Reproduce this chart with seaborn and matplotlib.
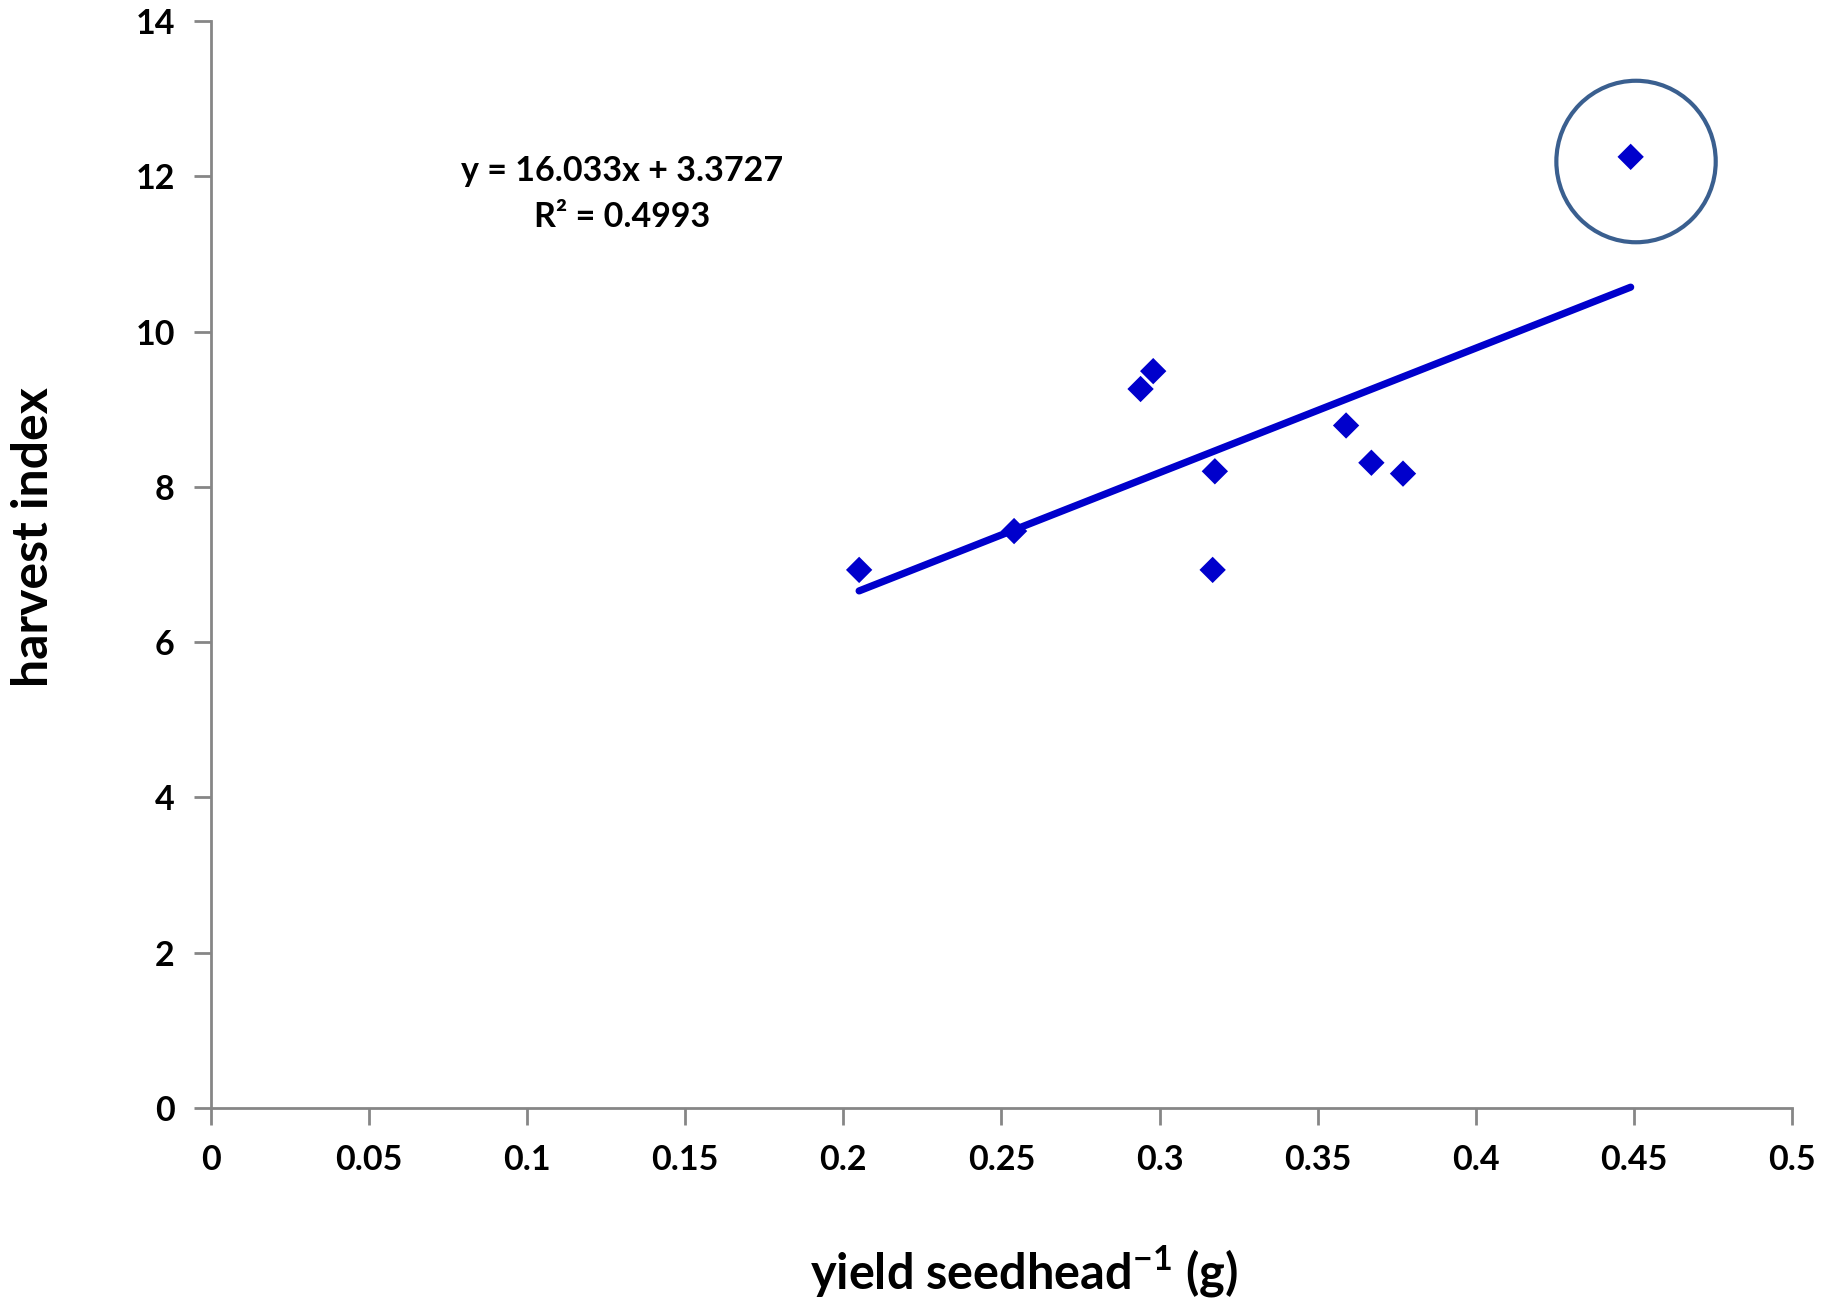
import numpy as np
import pandas as pd
import matplotlib
matplotlib.use('Agg')
import matplotlib.pyplot as plt
import seaborn as sns
from matplotlib.patches import Ellipse

# values
yield_seedhead = [0.205, 0.254, 0.294, 0.298, 0.3175, 0.3168, 0.359, 0.367, 0.377, 0.449]
harvest_index = [6.93, 7.43, 9.26, 9.49, 8.20, 6.93, 8.79, 8.31, 8.17, 12.25]

slope = 16.033
intercept = 3.3727
r_squared = 0.4993

x_ticks = [0, 0.05, 0.1, 0.15, 0.2, 0.25, 0.3, 0.35, 0.4, 0.45, 0.5]
y_ticks = [0, 2, 4, 6, 8, 10, 12, 14]

data = pd.DataFrame({'yield': yield_seedhead, 'hi': harvest_index})
trend = pd.DataFrame({'yield': [min(yield_seedhead), max(yield_seedhead)]})
trend['hi'] = slope * trend['yield'] + intercept

sns.set_style('white')
plt.rcParams['font.family'] = ['Lato', 'DejaVu Sans']
plt.rcParams['font.weight'] = 'bold'
plt.rcParams['text.color'] = 'black'
plt.rcParams['axes.labelcolor'] = 'black'
plt.rcParams['xtick.labelcolor'] = 'black'
plt.rcParams['ytick.labelcolor'] = 'black'
plt.rcParams['mathtext.fontset'] = 'custom'
plt.rcParams['mathtext.bf'] = 'Lato:bold'
plt.rcParams['mathtext.rm'] = 'Lato:bold'

fig = plt.figure(figsize=(18.39, 13.03), dpi=100)
ax = fig.add_axes([0.1147, 0.1497, 0.8597, 0.8342])

sns.lineplot(data=trend, x='yield', y='hi', ax=ax, color='#0000CC', linewidth=5.2,
             solid_capstyle='round')
sns.scatterplot(data=data, x='yield', y='hi', ax=ax, marker='D', s=180,
                color='#0000CC', edgecolor='none', zorder=3)

# highlight circle around the outlier
ax.add_patch(Ellipse((0.4507, 12.19), width=0.0504, height=2.08, fill=False,
                     edgecolor='#3A5F8F', linewidth=3, zorder=4))

ax.text(0.13, 12.07, f'y = {slope}x + {intercept}', ha='center', va='center',
        fontsize=24.5, fontweight='bold', color='black')
ax.text(0.13, 11.47, f'R² = {r_squared}', ha='center', va='center',
        fontsize=24.5, fontweight='bold', color='black')

ax.set_xlim(0, 0.5)
ax.set_ylim(0, 14)
ax.set_xticks(x_ticks)
ax.set_xticklabels([f'{t:g}' for t in x_ticks])
ax.set_yticks(y_ticks)
ax.tick_params(axis='both', which='major', labelsize=24.5, length=12, width=2,
               color='#868686', labelcolor='black', direction='out',
               bottom=True, left=True, pad=14)
for lbl in ax.get_xticklabels() + ax.get_yticklabels():
    lbl.set_fontweight('bold')

for side in ['top', 'right']:
    ax.spines[side].set_visible(False)
for side in ['left', 'bottom']:
    ax.spines[side].set_color('#868686')
    ax.spines[side].set_linewidth(2)

ax.set_xlabel(r'yield seedhead$^{\mathbf{-1}}$ (g)', fontsize=35, fontweight='bold',
              va='center', color='black')
ax.set_ylabel('harvest index', fontsize=36, fontweight='bold', va='center', color='black')
ax.xaxis.set_label_coords(0.514, -0.151)
ax.yaxis.set_label_coords(-0.112, 0.525)

fig.savefig('out.png', dpi=100)
